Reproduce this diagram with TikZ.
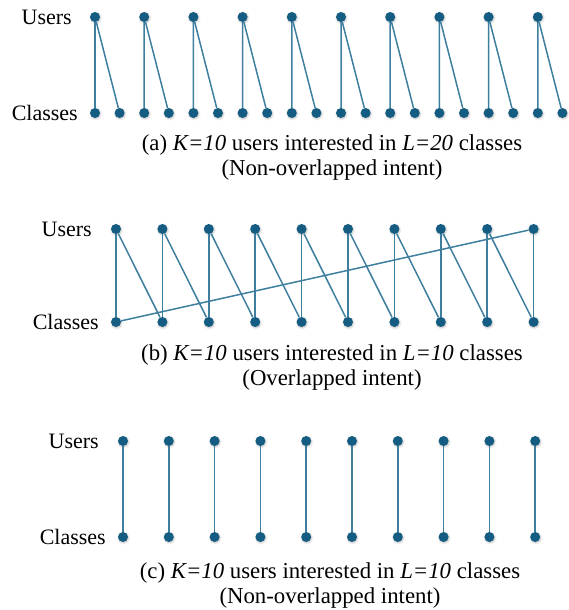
\documentclass[tikz,border=0pt]{standalone}
\usepackage{fontspec}
\setmainfont{Liberation Serif}
\usetikzlibrary{positioning,calc,shadows.blur}
\definecolor{dotblue}{RGB}{20,92,130}
\definecolor{linkblue}{RGB}{62,126,158}

\begin{document}
\begin{tikzpicture}[x=1pt,y=-1pt,
  dot/.style={circle,fill=dotblue,inner sep=0pt,minimum size=10pt,
    blur shadow={shadow xshift=0.6pt,shadow yshift=-1pt,shadow blur radius=2pt,shadow opacity=25}},
  link/.style={line width=1.5pt,linkblue},
  rowlabel/.style={font=\fontsize{22}{24}\selectfont,anchor=east,inner sep=0pt},
  captext/.style={font=\fontsize{22.8}{25}\selectfont,align=center,inner sep=0pt}
]
\useasboundingbox (0,0) rectangle (569,610);

% (a) users and 20 classes
\node[rowlabel] (usra) at (72,17)  {Users};
\node[rowlabel] (clsa) at (78,113) {Classes};
\foreach \i in {1,...,10}
  \node[dot] (ua\i) at ({95+49.2*(\i-1)},17) {};
\foreach \j in {1,...,20}
  \node[dot] (ca\j) at ({95+24.6*(\j-1)},113) {};
\foreach \i in {1,...,10}{
  \pgfmathtruncatemacro\jl{2*\i-1}
  \pgfmathtruncatemacro\jr{2*\i}
  \draw[link] (ua\i) -- (ca\jl);
  \draw[link] (ua\i) -- (ca\jr);
}
\node[captext] (capa) at (332,158)
  {(a) \textit{K=10} users interested in \textit{L=20} classes\\(Non-overlapped intent)};

% (b) overlapped, 10 classes
\node[rowlabel] (usrb) at (92,229) {Users};
\node[rowlabel] (clsb) at (99,322) {Classes};
\foreach \i in {1,...,10}{
  \node[dot] (ub\i) at ({116+46.4*(\i-1)},229) {};
  \node[dot] (cb\i) at ({116+46.4*(\i-1)},322) {};
}
\foreach \i in {1,...,10}
  \draw[link] (ub\i) -- (cb\i);
\foreach \i in {1,...,9}{
  \pgfmathtruncatemacro\k{\i+1}
  \draw[link] (ub\i) -- (cb\k);
}
\draw[link] (ub10) -- (cb1);
\node[captext] (capb) at (332,368)
  {(b) \textit{K=10} users interested in \textit{L=10} classes\\(Overlapped intent)};

% (c) one class per user
\node[rowlabel] (usrc) at (99,441)  {Users};
\node[rowlabel] (clsc) at (106,537) {Classes};
\foreach \i in {1,...,10}{
  \node[dot] (uc\i) at ({123+45.8*(\i-1)},441) {};
  \node[dot] (cc\i) at ({123+45.8*(\i-1)},537) {};
  \draw[link] (uc\i) -- (cc\i);
}
\node[captext] (capc) at (330,586)
  {(c) \textit{K=10} users interested in \textit{L=10} classes\\(Non-overlapped intent)};
\end{tikzpicture}
\end{document}
